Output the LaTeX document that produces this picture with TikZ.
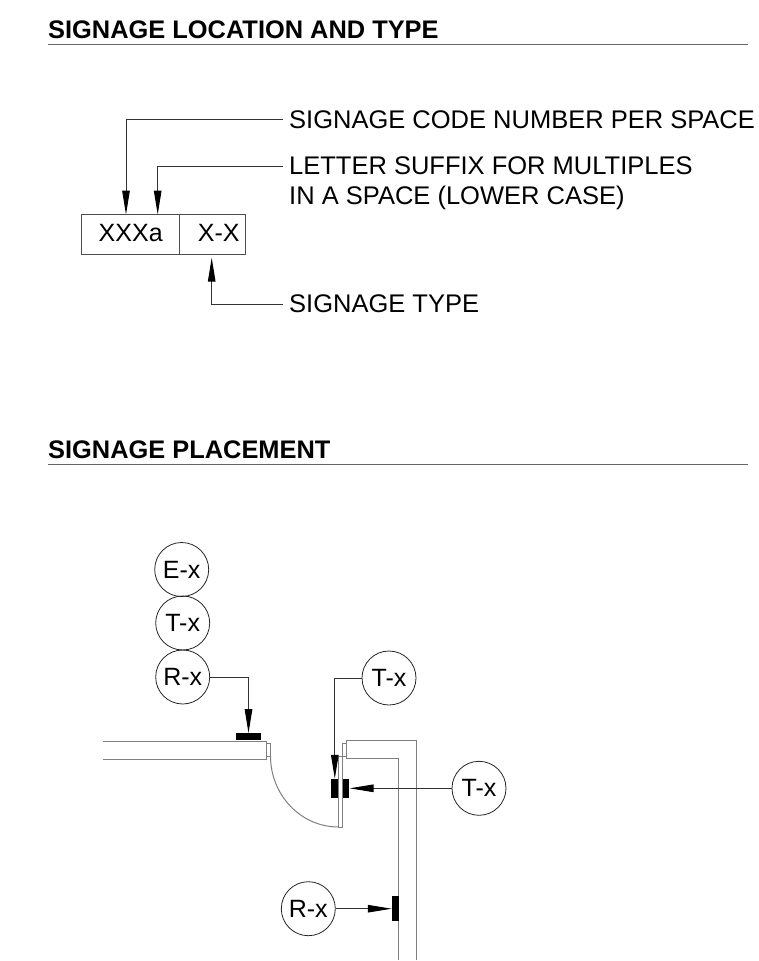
\documentclass[tikz,border=0pt]{standalone}
\usepackage{fontspec}
\setmainfont{Liberation Sans}
\usetikzlibrary{arrows.meta}
\begin{document}
\begin{tikzpicture}[x=1pt,y=-1pt]
    \useasboundingbox (0,0) rectangle (759,961);

    % Stijlen
    \tikzset{
        heading/.style={anchor=base west, inner sep=0pt, font=\fontsize{25.4}{30}\selectfont\bfseries},
        rule/.style={line width=1.3pt, black!60},
        label/.style={anchor=base west, inner sep=0pt, align=left, font=\fontsize{25.5}{29.6}\selectfont},
        cell/.style={draw=black!70, line width=0.9pt, minimum height=40pt, inner sep=0pt, text depth=3pt, font=\fontsize{25}{28}\selectfont},
        tag/.style={circle, draw=black!85, line width=0.8pt, minimum size=54pt, inner sep=0pt, font=\fontsize{25}{28}\selectfont},
        lead/.style={-{Triangle[length=24pt,width=7.5pt,color=black]}, line width=1pt, black!80},
        signbar/.style={fill=black, inner sep=0pt, minimum width=#1},
        wall/.style={line width=1pt, black!50}
    }

    % Koppen
    \node[heading] (title1) at (48,38.3) {SIGNAGE LOCATION AND TYPE};
    \coordinate (rule1a) at (48,44.5);
    \coordinate (rule1b) at (748,44.5);
    \draw[rule] (rule1a) -- (rule1b);
    \node[heading] (title2) at (48,458.3) {SIGNAGE PLACEMENT};
    \coordinate (rule2a) at (48,464.5);
    \coordinate (rule2b) at (748,464.5);
    \draw[rule] (rule2a) -- (rule2b);

    % Code
    \node[cell, minimum width=98.5pt] (code) at (130.2,234.6) {\hspace*{1pt}XXXa};
    \node[cell, minimum width=65.5pt] (type) at (212.2,234.6) {\hspace*{13pt}X-X};

    % Teksten
    \node[label] (lbcode) at (289,128.3) {SIGNAGE CODE NUMBER PER SPACE};
    \node[label] (lbletter) at (289,204.3) {LETTER SUFFIX FOR MULTIPLES\\IN A SPACE (LOWER CASE)};
    \node[label] (lbtype) at (289,312.3) {SIGNAGE TYPE};

    % Leiders
    \coordinate (codehit) at (126,214.6);
    \coordinate (lethit) at (157.7,214.6);
    \coordinate (typehit) at (211.7,257.7);
    \coordinate (codeend) at (283,119.5);
    \coordinate (letend) at (283,166);
    \coordinate (typeend) at (283,304.7);
    \draw[lead] (codeend) -| (codehit);
    \draw[lead] (letend) -| (lethit);
    \draw[lead] (typeend) -| (typehit);

    % Wanden
    \draw[wall] (102.7,741) -- (266.5,741) -- (266.5,759) -- (102.7,759);
    \draw[wall] (266.5,743.5) rectangle (270.5,756);
    \draw[wall] (270.5,756) arc[start angle=180, end angle=90, x radius=68, y radius=71];
    \draw[wall] (342.5,743.5) rectangle (346,756.5);
    \draw[wall] (338.7,756.5) rectangle (342.5,827);
    \draw[wall] (416,960) -- (416,740.5) -- (346,740.5) -- (346,758) -- (398.7,758) -- (398.7,960);

    % Borden
    \node[signbar=25pt, minimum height=7pt] (barwall) at (248.5,736.8) {};
    \node[signbar=7pt, minimum height=18.7pt] (barin) at (334.8,788.3) {};
    \node[signbar=6.6pt, minimum height=18.7pt] (barout) at (346,788.3) {};
    \node[signbar=6.7pt, minimum height=25pt] (barside) at (395.3,908.7) {};

    % Cirkels
    \node[tag] (ex) at (181.7,569.5) {E-x};
    \node[tag] (tx) at (182.7,623) {T-x};
    \node[tag] (rx) at (182.7,677) {R-x};
    \node[tag] (txin) at (389,678) {T-x};
    \node[tag] (txout) at (479,788.3) {T-x};
    \node[tag] (rxside) at (308.3,908.7) {R-x};

    \draw[lead] (rx.east) -| (barwall.north);
    \draw[lead] (txin.west) -| (barin.north);
    \draw[lead] (txout.west) -- (barout.east);
    \draw[lead] (rxside.east) -- (barside.west);
\end{tikzpicture}
\end{document}
